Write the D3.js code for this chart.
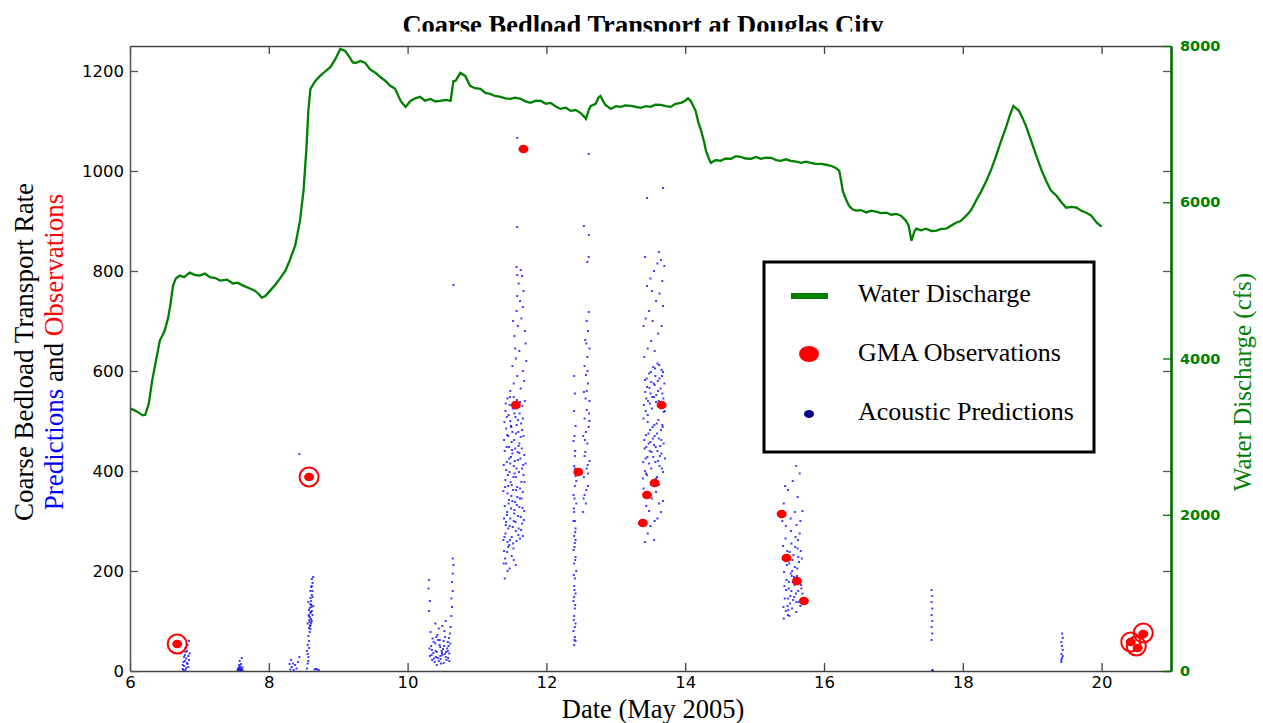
<!DOCTYPE html>
<meta charset="utf-8">
<head>
  <script src="https://d3js.org/d3.v7.min.js"></script>
  <style>
    body { margin: 0; background: #fff; }
    .serif { font-family: "Liberation Serif", "Times New Roman", serif; }
    .axis text { font-family: "DejaVu Sans", Verdana, sans-serif; }
  </style>
</head>
<body>
<div id="viz"></div>
<script>
// Water discharge (cfs): [day of May 2005, cfs]
var discharge = [
  [6.00,3361],[6.08,3330],[6.12,3310],[6.18,3272],[6.22,3280],[6.27,3420],[6.32,3720],[6.38,4000],
  [6.43,4230],[6.47,4300],[6.50,4358],[6.55,4520],[6.58,4677],[6.62,4933],[6.66,5023],[6.72,5061],
  [6.78,5040],[6.86,5099],[6.93,5070],[7.00,5060],[7.08,5087],[7.15,5040],[7.23,5030],[7.30,4998],
  [7.40,5010],[7.48,4960],[7.55,4970],[7.63,4933],[7.72,4900],[7.80,4869],[7.86,4820],[7.90,4780],
  [7.95,4800],[8.02,4869],[8.10,4950],[8.16,5023],[8.24,5125],[8.30,5253],[8.38,5444],[8.45,5764],
  [8.50,6147],[8.54,6658],[8.57,7170],[8.60,7451],[8.67,7553],[8.74,7617],[8.82,7680],[8.89,7732],
  [8.96,7834],[9.03,7962],[9.10,7936],[9.17,7847],[9.21,7790],[9.25,7783],[9.32,7808],[9.39,7783],
  [9.46,7700],[9.54,7655],[9.61,7600],[9.68,7553],[9.75,7490],[9.82,7451],[9.90,7297],[9.97,7221],
  [10.04,7297],[10.11,7330],[10.18,7349],[10.25,7300],[10.33,7323],[10.40,7290],[10.47,7297],[10.55,7310],
  [10.62,7297],[10.66,7550],[10.69,7553],[10.76,7655],[10.83,7617],[10.90,7490],[10.97,7460],[11.05,7451],
  [11.12,7400],[11.19,7387],[11.26,7360],[11.34,7349],[11.41,7330],[11.48,7323],[11.55,7340],[11.63,7323],
  [11.70,7290],[11.77,7272],[11.85,7300],[11.92,7297],[11.99,7260],[12.06,7272],[12.13,7230],[12.20,7195],
  [12.28,7210],[12.35,7170],[12.42,7180],[12.49,7144],[12.54,7100],[12.57,7067],[12.61,7180],[12.64,7233],
  [12.71,7260],[12.75,7340],[12.78,7361],[12.82,7290],[12.85,7246],[12.89,7220],[12.93,7195],[13.00,7230],
  [13.07,7221],[13.14,7240],[13.22,7233],[13.29,7220],[13.36,7208],[13.43,7230],[13.50,7221],[13.57,7250],
  [13.65,7246],[13.72,7230],[13.79,7221],[13.86,7260],[13.94,7272],[14.00,7300],[14.04,7330],[14.08,7297],
  [14.15,7170],[14.19,7020],[14.23,6914],[14.27,6780],[14.30,6658],[14.34,6560],[14.37,6505],[14.44,6540],
  [14.51,6530],[14.58,6560],[14.66,6556],[14.73,6590],[14.80,6582],[14.87,6560],[14.95,6556],[15.02,6580],
  [15.09,6556],[15.16,6570],[15.24,6569],[15.31,6540],[15.38,6530],[15.45,6550],[15.52,6530],[15.60,6520],
  [15.67,6505],[15.74,6520],[15.81,6505],[15.88,6490],[15.96,6492],[16.03,6480],[16.10,6467],[16.17,6440],
  [16.22,6403],[16.25,6260],[16.27,6147],[16.31,6050],[16.36,5955],[16.41,5910],[16.46,5892],[16.53,5900],
  [16.61,5870],[16.68,5892],[16.75,5880],[16.82,5860],[16.90,5866],[16.97,5840],[17.04,5850],[17.11,5828],
  [17.18,5764],[17.22,5700],[17.26,5508],[17.30,5620],[17.33,5662],[17.40,5640],[17.47,5662],[17.55,5630],
  [17.62,5636],[17.69,5660],[17.76,5662],[17.83,5700],[17.90,5738],[17.97,5760],[18.05,5828],[18.12,5900],
  [18.19,6019],[18.26,6130],[18.34,6275],[18.41,6420],[18.48,6594],[18.55,6780],[18.63,6978],[18.68,7120],
  [18.73,7233],[18.77,7200],[18.81,7170],[18.86,7080],[18.91,6978],[18.98,6800],[19.06,6594],[19.13,6420],
  [19.20,6275],[19.27,6150],[19.35,6083],[19.42,6000],[19.49,5930],[19.56,5940],[19.64,5930],[19.71,5890],
  [19.78,5866],[19.85,5830],[19.93,5738],[20.00,5687]
];

// GMA observations: [day, transport rate]
var gmaObs = [
  [6.68,54],[8.58,388],[11.67,1044],[11.56,532],[12.46,398],[13.39,296],[13.45,352],[13.56,376],
  [13.66,532],[15.39,314],[15.46,226],[15.61,180],[15.71,140],[20.42,58],[20.52,46],[20.60,74]
];
// observations that are ringed in the figure
var circledObs = [[6.68,54],[8.58,388],[20.42,58],[20.50,50],[20.60,76]];

// Acoustic predictions, read cluster by cluster: [day, transport rate]
var acoustic = [
  // May 6.8
  [6.76,4],[6.78,10],[6.80,2],[6.77,18],[6.81,25],[6.79,32],[6.83,14],[6.82,40],[6.84,8],[6.80,46],[6.85,22],
  [6.78,28],[6.76,12],[6.83,52],[6.86,35],[6.81,6],[6.79,20],[6.84,30],[6.77,2],[6.82,16],[6.85,60],[6.80,38],
  // May 7.6
  [7.55,2],[7.57,4],[7.59,1],[7.61,3],[7.56,6],[7.58,8],[7.60,5],[7.62,2],[7.57,12],[7.60,14],[7.58,20],
  [7.61,26],[7.56,1],[7.59,9],[7.62,7],[7.58,3],[7.60,1],
  // May 8.3 - 8.7
  [8.31,3],[8.33,8],[8.36,2],[8.38,12],[8.40,5],[8.35,15],[8.30,14],[8.32,22],[8.42,18],[8.44,28],
  [8.66,3],[8.68,4],[8.70,3],[8.72,2],
  [8.55,5],[8.56,15],[8.57,28],[8.55,40],[8.56,52],[8.58,60],[8.57,70],[8.59,78],[8.58,86],[8.60,92],
  [8.59,98],[8.61,104],[8.58,110],[8.60,116],[8.62,120],[8.59,126],[8.61,132],[8.57,138],[8.60,146],
  [8.62,152],[8.63,160],[8.61,168],[8.63,176],[8.62,184],[8.64,188],[8.60,84],[8.61,96],[8.59,108],
  [8.62,100],[8.58,122],[8.63,112],[8.60,134],[8.57,20],[8.56,34],[8.58,46],[8.61,140],[8.63,148],
  [8.60,160],[8.62,170],[8.64,130],[8.56,95],[8.44,434],
  [8.585,102],[8.605,118],[8.595,90],[8.615,128],[8.575,112],
  // May 10.5
  [10.32,30],[10.35,42],[10.38,25],[10.40,55],[10.42,38],[10.45,20],[10.47,48],[10.50,32],[10.52,60],
  [10.55,28],[10.57,45],[10.60,35],[10.36,65],[10.39,18],[10.43,72],[10.46,52],[10.49,40],[10.53,80],
  [10.56,22],[10.58,58],[10.34,50],[10.41,28],[10.44,62],[10.48,15],[10.51,44],[10.54,68],[10.59,50],
  [10.61,75],[10.37,36],[10.50,90],[10.45,85],[10.33,78],[10.40,95],[10.55,100],[10.62,88],[10.63,110],
  [10.64,128],[10.63,145],[10.65,160],[10.64,178],[10.65,195],[10.66,212],[10.65,225],[10.31,120],
  [10.32,140],[10.30,165],[10.31,182],[10.42,12],[10.52,16],[10.47,30],[10.58,40],[10.60,20],[10.66,772],
  [10.315,45],[10.345,32],[10.375,58],[10.405,40],[10.435,26],[10.465,62],[10.495,36],[10.525,50],
  [10.555,38],[10.585,26],[10.615,55],[10.355,22],[10.415,68],[10.475,24],[10.535,34],[10.595,66],
  // May 11.5
  [11.40,185],[11.44,200],[11.42,215],[11.47,205],[11.50,230],[11.39,240],[11.53,222],[11.45,248],[11.56,212],
  [11.38,262],[11.41,275],[11.44,258],[11.47,290],[11.50,268],[11.53,300],[11.56,280],[11.59,310],[11.62,265],
  [11.65,295],[11.68,320],[11.40,330],[11.43,312],[11.46,342],[11.49,325],[11.52,255],[11.55,338],[11.58,348],
  [11.61,328],[11.64,345],[11.42,298],[11.48,305],[11.54,322],[11.60,285],[11.66,270],[11.39,305],[11.45,285],
  [11.51,340],[11.57,260],[11.63,308],
  [11.38,360],[11.41,382],[11.44,355],[11.47,398],[11.50,372],[11.53,410],[11.56,388],[11.59,422],[11.62,365],
  [11.65,405],[11.68,432],[11.40,440],[11.43,418],[11.46,448],[11.49,428],[11.52,362],[11.55,445],[11.58,368],
  [11.61,436],[11.64,378],[11.67,392],[11.42,402],[11.48,415],[11.54,395],[11.60,450],[11.66,358],[11.70,415],
  [11.45,370],[11.51,435],[11.57,405],
  [11.39,462],[11.42,485],[11.45,470],[11.48,500],[11.51,478],[11.54,515],[11.57,492],[11.60,528],[11.63,468],
  [11.66,505],[11.69,540],[11.41,520],[11.44,545],[11.47,532],[11.50,458],[11.53,548],[11.56,475],[11.59,502],
  [11.62,538],[11.65,482],[11.43,508],[11.49,490],[11.55,525],[11.61,455],[11.67,470],
  [11.395,268],[11.415,292],[11.435,318],[11.455,335],[11.475,262],[11.495,350],[11.515,288],[11.535,315],
  [11.555,298],[11.575,332],[11.595,272],[11.615,345],[11.635,282],[11.655,326],[11.675,302],[11.385,412],
  [11.405,368],[11.425,448],[11.445,392],[11.465,425],[11.485,378],[11.505,442],[11.525,388],[11.545,420],
  [11.565,362],[11.585,438],[11.605,398],[11.625,425],[11.645,445],[11.665,412],[11.685,378],[11.395,498],
  [11.415,535],[11.435,472],[11.455,512],[11.475,548],[11.495,488],[11.515,525],[11.535,462],[11.555,508],
  [11.575,542],[11.595,478],[11.615,515],[11.635,495],[11.655,530],[11.405,225],[11.435,238],[11.465,252],
  [11.525,245],[11.385,215],
  [11.48,560],[11.53,575],[11.58,590],[11.63,565],[11.68,580],[11.51,610],[11.56,625],[11.61,640],[11.66,600],
  [11.70,655],[11.54,670],[11.59,690],[11.64,705],[11.69,680],[11.57,720],[11.62,740],[11.67,760],[11.60,775],
  [11.65,790],[11.63,802],[11.55,645],[11.71,620],[11.52,700],[11.66,728],[11.58,750],
  [11.57,808],[11.58,792],[11.58,888],[11.58,1066],
  // May 12.4 - 12.6
  [12.40,52],[12.41,68],[12.39,80],[12.42,95],[12.40,110],[12.41,125],[12.39,140],[12.42,155],[12.40,170],
  [12.41,185],[12.43,200],[12.40,215],[12.42,228],[12.39,242],[12.41,256],[12.40,270],[12.42,285],[12.41,300],
  [12.40,318],[12.43,335],[12.39,352],[12.41,370],[12.42,390],[12.40,410],[12.41,430],[12.39,460],[12.42,490],
  [12.40,520],[12.41,555],[12.40,590],[12.42,60],[12.41,88],[12.40,148],[12.42,262],[12.39,300],[12.41,405],
  [12.43,380],
  [12.405,62],[12.395,102],[12.415,132],[12.405,162],[12.395,192],[12.415,222],[12.405,248],[12.415,278],
  [12.395,325],[12.405,345],[12.415,440],[12.405,470],
  [12.53,318],[12.57,335],[12.55,352],[12.60,370],[12.54,388],[12.58,405],[12.62,420],[12.56,438],[12.59,455],
  [12.53,470],[12.61,488],[12.55,505],[12.58,522],[12.62,540],[12.54,558],[12.60,575],[12.57,592],[12.55,610],
  [12.59,628],[12.62,645],[12.56,662],[12.60,680],[12.58,700],[12.61,718],[12.57,478],[12.60,395],[12.55,430],
  [12.58,560],[12.62,500],[12.54,890],[12.61,872],[12.61,828],[12.59,818],[12.61,1034],
  [12.535,345],[12.575,362],[12.595,412],[12.555,462],[12.615,515],[12.565,545],[12.595,600],[12.575,655],
  // May 13.5
  [13.42,258],[13.46,275],[13.50,290],[13.55,262],[13.60,305],[13.65,318],[13.44,330],[13.52,345],[13.58,358],
  [13.62,372],[13.48,320],[13.68,340],[13.40,365],[13.56,300],
  [13.39,385],[13.42,400],[13.45,392],[13.48,415],[13.51,405],[13.54,428],[13.57,418],[13.60,440],[13.63,410],
  [13.66,435],[13.69,455],[13.41,462],[13.44,448],[13.47,475],[13.50,458],[13.53,488],[13.56,470],[13.59,495],
  [13.62,465],[13.65,482],[13.68,398],[13.71,425],[13.43,425],[13.49,440],[13.55,452],[13.61,420],[13.67,492],
  [13.46,498],[13.58,385],[13.64,450],
  [13.40,505],[13.43,520],[13.46,512],[13.49,535],[13.52,525],[13.55,548],[13.58,538],[13.61,560],[13.64,530],
  [13.67,555],[13.70,575],[13.42,582],[13.45,568],[13.48,595],[13.51,578],[13.54,608],[13.57,590],[13.60,615],
  [13.63,585],[13.66,602],[13.69,518],[13.44,545],[13.50,555],[13.56,572],[13.62,540],[13.68,598],
  [13.395,418],[13.415,445],[13.435,472],[13.455,428],[13.475,455],[13.495,482],[13.515,438],[13.535,465],
  [13.555,492],[13.575,448],[13.595,475],[13.615,502],[13.635,430],[13.655,462],[13.675,488],[13.405,532],
  [13.425,558],[13.445,585],[13.465,540],[13.485,566],[13.505,598],[13.525,548],[13.545,575],[13.565,605],
  [13.585,552],[13.605,580],[13.625,612],[13.645,565],[13.665,590],[13.685,545],[13.705,520],[13.435,395],
  [13.515,372],[13.595,388],[13.665,405],[13.475,350],[13.625,335],
  [13.41,628],[13.46,645],[13.51,660],[13.56,640],[13.61,675],[13.66,690],[13.43,705],[13.48,720],[13.53,700],
  [13.58,740],[13.63,755],[13.68,730],[13.45,770],[13.50,785],[13.55,800],[13.60,815],[13.65,822],[13.70,810],
  [13.42,828],[13.67,780],[13.40,690],[13.52,760],[13.62,838],[13.45,946],[13.68,966],
  // May 15.5
  [15.42,105],[15.45,120],[15.48,112],[15.51,135],[15.54,125],[15.57,148],[15.60,138],[15.63,160],[15.66,130],
  [15.69,155],[15.43,170],[15.46,182],[15.49,165],[15.52,195],[15.55,178],[15.58,208],[15.61,190],[15.64,218],
  [15.67,172],[15.44,225],[15.47,240],[15.50,215],[15.53,255],[15.56,232],[15.59,268],[15.62,245],[15.65,275],
  [15.41,250],[15.48,145],[15.54,200],[15.60,118],[15.50,110],[15.57,188],[15.63,228],[15.45,290],[15.52,305],
  [15.58,318],[15.42,335],[15.66,300],[15.62,348],[15.48,362],[15.55,380],[15.65,395],[15.60,410],[15.44,370],
  [15.69,320],[15.58,442],[15.40,300],[15.68,225],[15.53,160],
  [15.415,128],[15.435,145],[15.455,162],[15.475,130],[15.495,178],[15.515,150],[15.535,190],[15.555,142],
  [15.575,172],[15.595,155],[15.615,205],[15.635,138],[15.655,182],[15.675,165],[15.425,198],[15.465,212],
  [15.505,238],[15.545,222],[15.585,248],[15.625,262],[15.665,240],[15.445,265],[15.525,280],[15.605,292],
  [15.485,122],
  // May 17.6
  [17.55,62],[17.56,75],[17.55,88],[17.56,100],[17.55,112],[17.56,125],[17.55,138],[17.56,150],[17.55,162],
  [17.56,2],[17.57,1],
  // May 19.4
  [19.42,18],[19.43,26],[19.42,34],[19.44,42],[19.43,50],[19.42,58],[19.44,66],[19.43,75],[19.42,22],[19.44,30]
];

var xTicks = [6, 8, 10, 12, 14, 16, 18, 20];
var rateTicks = [0, 200, 400, 600, 800, 1000, 1200];
var flowTicks = [0, 2000, 4000, 6000, 8000];

var config = { width: 1263, height: 723 };
var plot = { left: 130, right: 1171, top: 46, bottom: 671 };

var svg = d3.select("#viz").append("svg")
  .attr("width", config.width)
  .attr("height", config.height);

var x = d3.scaleLinear().domain([6, 21]).range([plot.left, plot.right]);
var yRate = d3.scaleLinear().domain([0, 1250]).range([plot.bottom, plot.top]);
var yFlow = d3.scaleLinear().domain([0, 8000]).range([plot.bottom, plot.top]);
var plain = d3.format("d");

// title, clipped at the bottom like the original
svg.append("clipPath").attr("id", "titleClip")
  .append("rect").attr("x", 0).attr("y", 0).attr("width", config.width).attr("height", 31.5);
svg.append("text")
  .attr("class", "serif")
  .attr("clip-path", "url(#titleClip)")
  .attr("x", 643).attr("y", 34)
  .attr("text-anchor", "middle")
  .attr("font-size", 26.5).attr("font-weight", "bold")
  .text("Coarse Bedload Transport at Douglas City");

// acoustic predictions
svg.append("g").selectAll("rect")
  .data(acoustic)
  .enter().append("rect")
  .attr("x", function(d) { return x(d[0]) - 1; })
  .attr("y", function(d) { return yRate(d[1]) - 1; })
  .attr("width", 2).attr("height", 2)
  .attr("fill", "#0000ff")
  .attr("opacity", 0.75);

// water discharge
svg.append("path")
  .datum(discharge)
  .attr("fill", "none")
  .attr("stroke", "#008000")
  .attr("stroke-width", 2.3)
  .attr("d", d3.line()
    .x(function(d) { return x(d[0]); })
    .y(function(d) { return yFlow(d[1]); }));

// GMA observations
svg.append("g").selectAll("circle")
  .data(circledObs)
  .enter().append("circle")
  .attr("cx", function(d) { return x(d[0]); })
  .attr("cy", function(d) { return yRate(d[1]); })
  .attr("r", 9.5)
  .attr("fill", "none")
  .attr("stroke", "#ff0000")
  .attr("stroke-width", 2);

svg.append("g").selectAll("ellipse")
  .data(gmaObs)
  .enter().append("ellipse")
  .attr("cx", function(d) { return x(d[0]); })
  .attr("cy", function(d) { return yRate(d[1]); })
  .attr("rx", 5).attr("ry", 4.3)
  .attr("fill", "#ff0000");

// axes
function styleAxis(g, color, width) {
  g.select(".domain").attr("stroke", color).attr("stroke-width", width);
  g.selectAll(".tick line").attr("stroke", color).attr("stroke-width", 1.3);
}

var axBottom = svg.append("g").attr("class", "axis")
  .attr("transform", "translate(0," + plot.bottom + ")")
  .call(d3.axisBottom(x).tickValues(xTicks).tickFormat(plain).tickSizeInner(-8).tickSizeOuter(0).tickPadding(5));
styleAxis(axBottom, "#444", 1.5);
axBottom.selectAll("text").attr("font-size", 16.5).attr("fill", "#000");

var axTop = svg.append("g").attr("class", "axis")
  .attr("transform", "translate(0," + plot.top + ")")
  .call(d3.axisTop(x).tickValues(xTicks).tickSizeInner(-8).tickSizeOuter(0).tickFormat(""));
styleAxis(axTop, "#444", 1.5);

var axLeft = svg.append("g").attr("class", "axis")
  .attr("transform", "translate(" + plot.left + ",0)")
  .call(d3.axisLeft(yRate).tickValues(rateTicks).tickFormat(plain).tickSizeInner(-8).tickSizeOuter(0).tickPadding(6));
styleAxis(axLeft, "#555", 1.5);
axLeft.selectAll("text").attr("font-size", 16.5).attr("fill", "#000");

var axRightMirror = svg.append("g").attr("class", "axis")
  .attr("transform", "translate(" + plot.right + ",0)")
  .call(d3.axisRight(yRate).tickValues(rateTicks).tickSizeInner(-8).tickSizeOuter(0).tickFormat(""));
styleAxis(axRightMirror, "#555", 1.5);

var axRight = svg.append("g").attr("class", "axis")
  .attr("transform", "translate(" + plot.right + ",0)")
  .call(d3.axisRight(yFlow).tickValues(flowTicks).tickFormat(plain).tickSizeInner(-8).tickSizeOuter(0).tickPadding(9));
styleAxis(axRight, "#007000", 2.5);
axRight.selectAll("text").attr("font-size", 14.5).attr("font-weight", "bold").attr("fill", "#008000");

// axis titles
svg.append("text")
  .attr("class", "serif")
  .attr("x", 653).attr("y", 718)
  .attr("text-anchor", "middle")
  .attr("font-size", 26.5)
  .text("Date (May 2005)");

svg.append("text")
  .attr("class", "serif")
  .attr("transform", "translate(33,352) rotate(-90)")
  .attr("text-anchor", "middle")
  .attr("font-size", 27)
  .text("Coarse Bedload Transport Rate");

var yLab2 = svg.append("text")
  .attr("class", "serif")
  .attr("transform", "translate(63,352) rotate(-90)")
  .attr("text-anchor", "middle")
  .attr("font-size", 27);
yLab2.append("tspan").attr("fill", "#0000ff").text("Predictions");
yLab2.append("tspan").attr("fill", "#000").text(" and ");
yLab2.append("tspan").attr("fill", "#ff0000").text("Observations");

svg.append("text")
  .attr("class", "serif")
  .attr("transform", "translate(1251,382) rotate(-90)")
  .attr("text-anchor", "middle")
  .attr("font-size", 25)
  .attr("fill", "#008000")
  .text("Water Discharge (cfs)");

// legend
var legend = svg.append("g");
legend.append("rect")
  .attr("x", 764).attr("y", 262).attr("width", 330).attr("height", 190)
  .attr("fill", "#fff").attr("stroke", "#000").attr("stroke-width", 3);
legend.append("line")
  .attr("x1", 791).attr("x2", 828).attr("y1", 296).attr("y2", 296)
  .attr("stroke", "#008000").attr("stroke-width", 6);
legend.append("ellipse")
  .attr("cx", 809).attr("cy", 354).attr("rx", 10).attr("ry", 8)
  .attr("fill", "#ff0000");
legend.append("ellipse")
  .attr("cx", 809).attr("cy", 414).attr("rx", 5).attr("ry", 4)
  .attr("fill", "#000080");
var legendLabels = ["Water Discharge", "GMA Observations", "Acoustic Predictions"];
legend.selectAll("text.lab")
  .data(legendLabels)
  .enter().append("text")
  .attr("class", "serif lab")
  .attr("x", 858)
  .attr("y", function(d, i) { return 302 + i * 59; })
  .attr("font-size", 26)
  .text(function(d) { return d; });
</script>
</body>
